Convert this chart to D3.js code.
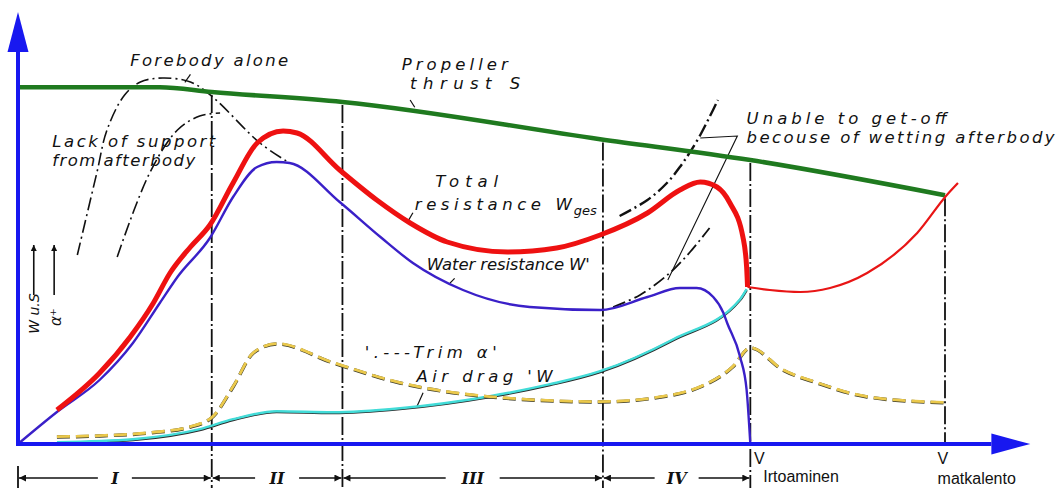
<!DOCTYPE html>
<html>
<head>
<meta charset="utf-8">
<script src="https://cdn.jsdelivr.net/npm/d3@7"></script>
<style>
  body { margin: 0; background: #fff; }
  svg { display: block; }
</style>
</head>
<body>
<script>
// speed in % of V matkalento, forces in arbitrary units
const thrustV = [0, 15.3, 20.9, 35, 62.8, 79, 100];
const thrustF = [89.2, 89.2, 88, 85.5, 76.2, 71, 62.2];

const totalV = [4.2, 8.8, 12.1, 14.6, 16.4, 18.6, 20.7, 23.2, 25.8, 28.6, 30.1, 34.7, 38.7, 42.3, 46.3, 52.8, 58.1, 62.8, 67.9, 71.4, 73.6, 75.4, 76.8, 78.2, 78.6, 78.7];
const totalF = [8.5, 17.75, 26.75, 35.25, 42.75, 49.25, 54.75, 65.25, 75.25, 78.25, 77.75, 68.5, 61, 55.25, 50.5, 48, 49, 52.25, 57.75, 63.5, 65.5, 64.25, 60.25, 51.75, 44.25, 39.25];

const airborneV = [78.7, 81.1, 84.4, 87.6, 91.6, 97, 100.2, 101.4];
const airborneF = [39.25, 38.5, 38, 39, 42.75, 52.75, 62.25, 65.25];

const waterV = [0, 4.2, 8.8, 12.4, 15.3, 17.2, 20.7, 23.2, 25.8, 27.9, 29.3, 34.7, 39.1, 42.6, 48, 55.2, 62.8, 67.9, 71.4, 73.2, 75, 76.1, 76.5, 77.9, 78.6, 79];
const waterF = [0, 8, 16, 25.25, 35.25, 41.75, 51.5, 61.75, 69.25, 70.5, 70.25, 60.5, 51.75, 45.25, 38.5, 34.25, 33.5, 36.75, 39, 39, 36.75, 32.75, 30.25, 21.75, 13.5, 0];

const airV = [4.2, 12.4, 19.6, 23.2, 27.9, 34, 41.2, 50.9, 57.4, 62.8, 70.7, 77.9, 78.6];
const airF = [0.25, 1, 3.5, 6, 8, 7.75, 8.75, 11.75, 14.75, 18, 26, 36, 38.5];

const trimV = [4.2, 8.8, 14.2, 18.6, 21, 23.2, 25.4, 27.9, 34, 41.2, 50.9, 62.8, 70.7, 73.6, 77.1, 79, 82.5, 86.2, 91.6, 100.2];
const trimF = [1.75, 2, 2.75, 4.25, 6.75, 14.25, 22.75, 25, 20.25, 15.25, 11.75, 10.5, 12.25, 14.25, 19.25, 24, 18.5, 15.25, 11.75, 10.25];

// dash-dot sketch curves
const foreV = [6.4, 8.5, 9.6, 11.5, 13.2, 15.6, 18.6, 21, 26.1, 29.3];
const foreF = [47.25, 67.75, 78.5, 87.25, 90.5, 91.5, 90.5, 86.75, 75.25, 70.25];
const supportV = [10.7, 14.2, 17.2, 19.6, 21.8];
const supportF = [46.75, 67.75, 78.5, 82, 82.75];
const wetUpperV = [64.9, 67.9, 70, 71.4, 72.5, 73.6, 74.6, 75.5];
const wetUpperF = [57, 61, 65.25, 69.25, 73, 77.25, 81.75, 86];
const wetLowerV = [64.2, 67.1, 70.3, 72.5, 74.6];
const wetLowerF = [34.25, 37.25, 42.75, 48, 54];

// phases of the take-off run
const phaseEdges = [0, 20.9, 35, 63.1, 79];
const phaseNames = ["I", "II", "III", "IV"];
const boundaries = [20.9, 35, 63.1, 79, 100];

const W = 1057, H = 488;

const xScale = d3.scaleLinear().domain([0, 100]).range([18, 945]);
const yScale = d3.scaleLinear().domain([0, 100]).range([444, 44]);

const svg = d3.select("body").append("svg")
    .attr("width", W)
    .attr("height", H);

const defs = svg.append("defs");
defs.append("marker")
    .attr("id", "arr")
    .attr("viewBox", "0 0 10 10")
    .attr("refX", 10).attr("refY", 5)
    .attr("markerWidth", 9).attr("markerHeight", 7)
    .attr("markerUnits", "userSpaceOnUse")
    .attr("orient", "auto-start-reverse")
    .append("path").attr("d", "M0,0 L10,5 L0,10 z").attr("fill", "#111");
defs.append("marker")
    .attr("id", "up")
    .attr("viewBox", "0 0 10 10")
    .attr("refX", 10).attr("refY", 5)
    .attr("markerWidth", 9).attr("markerHeight", 6)
    .attr("markerUnits", "userSpaceOnUse")
    .attr("orient", "auto")
    .append("path").attr("d", "M0,0 L10,5 L0,10 z").attr("fill", "#111");

const smooth = d3.line()
    .x(d => xScale(d[0]))
    .y(d => yScale(d[1]))
    .curve(d3.curveMonotoneX);
const sketch = d3.line()
    .x(d => xScale(d[0]))
    .y(d => yScale(d[1]))
    .curve(d3.curveCatmullRom.alpha(0.5));
const straight = d3.line()
    .x(d => xScale(d[0]))
    .y(d => yScale(d[1]));

const thrustAt = v => {
    const i = Math.max(1, d3.bisectLeft(thrustV, v));
    const t = (v - thrustV[i - 1]) / (thrustV[i] - thrustV[i - 1]);
    return thrustF[i - 1] + t * (thrustF[i] - thrustF[i - 1]);
};

// vertical phase boundaries
svg.selectAll(".bound")
    .data(boundaries)
    .enter()
    .append("line")
    .attr("class", "bound")
    .attr("x1", d => xScale(d)).attr("x2", d => xScale(d))
    .attr("y1", d => yScale(thrustAt(d)) + 3)
    .attr("y2", d => d === 100 ? yScale(0) : yScale(-11))
    .attr("stroke", "#111")
    .attr("stroke-width", 1.8)
    .attr("stroke-dasharray", "18 3 2 3");

svg.append("line")
    .attr("x1", xScale(0)).attr("x2", xScale(0))
    .attr("y1", yScale(-5.5)).attr("y2", yScale(-11))
    .attr("stroke", "#111").attr("stroke-width", 1.8);

// phase row
const rowY = yScale(-8.5);
phaseNames.forEach((name, i) => {
    const a = xScale(phaseEdges[i]), b = xScale(phaseEdges[i + 1]);
    const c = (a + b) / 2;
    const gap = 12 + name.length * 5;
    svg.append("line")
        .attr("x1", c - gap).attr("x2", a + 1)
        .attr("y1", rowY).attr("y2", rowY)
        .attr("stroke", "#111").attr("stroke-width", 1.4)
        .attr("marker-end", "url(#arr)");
    svg.append("line")
        .attr("x1", c + gap).attr("x2", b - 1)
        .attr("y1", rowY).attr("y2", rowY)
        .attr("stroke", "#111").attr("stroke-width", 1.4)
        .attr("marker-end", "url(#arr)");
    svg.append("text")
        .attr("x", c).attr("y", rowY + 6)
        .attr("text-anchor", "middle")
        .attr("font-family", "DejaVu Serif")
        .attr("font-style", "italic")
        .attr("font-weight", "bold")
        .attr("font-size", 16)
        .attr("fill", "#111")
        .text(name);
});

// dash-dot sketch curves
[[foreV, foreF, 1.6], [supportV, supportF, 1.6], [wetUpperV, wetUpperF, 2.4], [wetLowerV, wetLowerF, 1.8]]
    .forEach(([v, f, sw]) => {
        svg.append("path")
            .attr("d", sketch(d3.zip(v, f)))
            .attr("fill", "none")
            .attr("stroke", "#111")
            .attr("stroke-width", sw)
            .attr("stroke-dasharray", "13 4 2 4");
    });

// thin leader for the "unable to get-off" note
svg.append("path")
    .attr("d", straight([[73.6, 76.5], [77.6, 77], [70.1, 41]]))
    .attr("fill", "none")
    .attr("stroke", "#111")
    .attr("stroke-width", 1.1);

// short pointer ticks of the notes
const pointers = [
    [[18.6, 92.4], [18.0, 90.4]],
    [[42.3, 86], [42.8, 84.2]],
    [[42.0, 55.4], [42.6, 57.8]],
    [[46.6, 40.2], [47.1, 41.4]],
    [[43.0, 9.2], [43.7, 12.8]]
];
pointers.forEach(p => {
    svg.append("path").attr("d", straight(p))
        .attr("stroke", "#111").attr("stroke-width", 1.2);
});

// propeller thrust
svg.append("path")
    .attr("d", smooth(d3.zip(thrustV, thrustF)))
    .attr("fill", "none")
    .attr("stroke", "#1f7a1f")
    .attr("stroke-width", 4.5);

// air drag
svg.append("path")
    .attr("d", smooth(d3.zip(airV, airF)))
    .attr("fill", "none")
    .attr("stroke", "#2a2a2a")
    .attr("stroke-width", 2.6);
svg.append("path")
    .attr("d", smooth(d3.zip(airV, airF)))
    .attr("fill", "none")
    .attr("stroke", "#42dcd8")
    .attr("stroke-width", 2.4)
    .attr("transform", "translate(0,-0.8)");

// trim
svg.append("path")
    .attr("d", smooth(d3.zip(trimV, trimF)))
    .attr("fill", "none")
    .attr("stroke", "#3a3a2a")
    .attr("stroke-width", 3.4)
    .attr("stroke-dasharray", "13 6");
svg.append("path")
    .attr("d", smooth(d3.zip(trimV, trimF)))
    .attr("fill", "none")
    .attr("stroke", "#ebc94c")
    .attr("stroke-width", 2.8)
    .attr("stroke-dasharray", "13 6")
    .attr("transform", "translate(0,-0.4)");

// water resistance
svg.append("path")
    .attr("d", smooth(d3.zip(waterV, waterF)))
    .attr("fill", "none")
    .attr("stroke", "#3a20c8")
    .attr("stroke-width", 2.4);

// total resistance
svg.append("path")
    .attr("d", smooth(d3.zip(airborneV, airborneF)))
    .attr("fill", "none")
    .attr("stroke", "#e81515")
    .attr("stroke-width", 2.2);
svg.append("path")
    .attr("d", smooth(d3.zip(totalV, totalF)))
    .attr("fill", "none")
    .attr("stroke", "#ee1111")
    .attr("stroke-width", 5)
    .attr("stroke-linejoin", "round");

// axes
const axisBlue = "#1818f0";
svg.append("line")
    .attr("x1", xScale(0)).attr("x2", xScale(105))
    .attr("y1", yScale(0)).attr("y2", yScale(0))
    .attr("stroke", axisBlue).attr("stroke-width", 4);
svg.append("path")
    .attr("d", `M${xScale(105)},${yScale(0) - 10.5} L${xScale(109.2)},${yScale(0)} L${xScale(105)},${yScale(0) + 10.5} Z`)
    .attr("fill", axisBlue);
svg.append("line")
    .attr("x1", xScale(0)).attr("x2", xScale(0))
    .attr("y1", yScale(0) + 2).attr("y2", yScale(98))
    .attr("stroke", axisBlue).attr("stroke-width", 4);
svg.append("path")
    .attr("d", `M${xScale(0) - 10.5},${yScale(98)} L${xScale(0)},${yScale(108)} L${xScale(0) + 10.5},${yScale(98)} Z`)
    .attr("fill", axisBlue);

// notes
const notes = [
    { t: "Forebody alone", v: 12.1, f: 94.5, w: 158 },
    { t: "Lack of support", v: 3.7, f: 74.3, w: 163 },
    { t: "from afterbody", v: 3.7, f: 69.5, w: 143 },
    { t: "Propeller", v: 41.4, f: 93.5, w: 106 },
    { t: "thrust S", v: 42.3, f: 88.75, w: 110 },
    { t: "Total", v: 45, f: 64.25, w: 63 },
    { t: "resistance W", v: 42.8, f: 58.5, w: 157 },
    { t: "Water resistance W'", v: 44.1, f: 43.5, w: 163 },
    { t: "'.---Trim \u03b1'", v: 37.4, f: 21.5, w: 132 },
    { t: "Air drag 'W", v: 43, f: 15.5, w: 136 },
    { t: "Unable to get-off", v: 78.6, f: 80, w: 200 },
    { t: "becouse of wetting afterbody", v: 78.6, f: 75.25, w: 308 }
];
svg.selectAll(".note")
    .data(notes)
    .enter()
    .append("text")
    .attr("class", "note")
    .attr("x", d => xScale(d.v))
    .attr("y", d => yScale(d.f))
    .attr("textLength", d => d.w)
    .attr("lengthAdjust", "spacing")
    .attr("font-family", "DejaVu Sans")
    .attr("font-style", "oblique")
    .attr("font-size", 16.5)
    .attr("fill", "#111")
    .text(d => d.t);

svg.append("text")
    .attr("x", xScale(42.8) + 159).attr("y", yScale(57.2))
    .attr("font-family", "DejaVu Sans")
    .attr("font-style", "oblique")
    .attr("font-size", 13)
    .attr("fill", "#111")
    .text("ges");

// y-axis quantity labels
[[1.7, 37.25], [3.9, 37.25]].forEach(([v, f]) => {
    svg.append("line")
        .attr("x1", xScale(v)).attr("x2", xScale(v))
        .attr("y1", yScale(f)).attr("y2", yScale(f + 12.5))
        .attr("stroke", "#111").attr("stroke-width", 1.6)
        .attr("marker-end", "url(#up)");
});
svg.append("text")
    .attr("transform", `translate(${xScale(2.3)},${yScale(32.6)}) rotate(-90)`)
    .attr("text-anchor", "middle")
    .attr("font-family", "DejaVu Sans")
    .attr("font-style", "oblique")
    .attr("font-size", 14)
    .attr("fill", "#111")
    .text("W u.S");
svg.append("text")
    .attr("transform", `translate(${xScale(4.6)},${yScale(31.7)}) rotate(-90)`)
    .attr("text-anchor", "middle")
    .attr("font-family", "DejaVu Sans")
    .attr("font-style", "oblique")
    .attr("font-size", 15)
    .attr("fill", "#111")
    .text("\u03b1\u207a");

// speed marks under the axis
const speedMarks = [
    { t: "V", v: 79.4, f: -5.0 },
    { t: "Irtoaminen", v: 80.4, f: -9.4 },
    { t: "V", v: 99.2, f: -5.0 },
    { t: "matkalento", v: 99.2, f: -10.0 }
];
svg.selectAll(".speed")
    .data(speedMarks)
    .enter()
    .append("text")
    .attr("class", "speed")
    .attr("x", d => xScale(d.v))
    .attr("y", d => yScale(d.f))
    .attr("font-family", "Liberation Sans")
    .attr("font-size", 16)
    .attr("fill", "#111")
    .text(d => d.t);
</script>
</body>
</html>
